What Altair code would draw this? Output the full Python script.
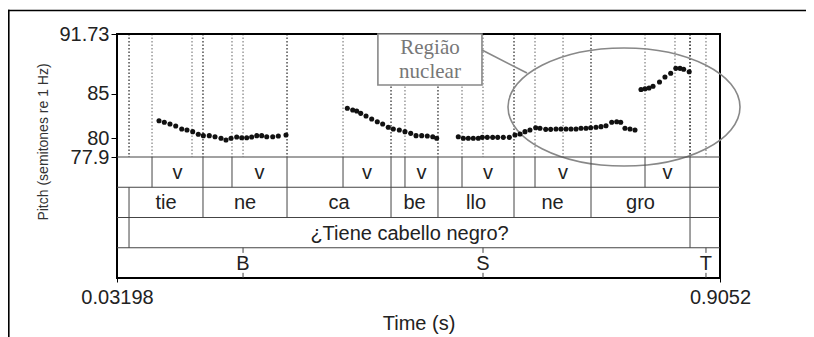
import altair as alt
import pandas as pd

# ---------------- data ----------------
T0, T1 = 0.03198, 0.9052
P_LO, P_HI = 77.9, 91.73

seg1_t = [0.0928, 0.1005, 0.1087, 0.1170, 0.1257, 0.1333, 0.1416, 0.1497, 0.1570, 0.1656, 0.1739, 0.1826,
          0.1898, 0.1971, 0.2053, 0.2126, 0.2198, 0.2270, 0.2343, 0.2415, 0.2488, 0.2575, 0.2656, 0.2767]
seg1_p = [81.98, 81.80, 81.61, 81.39, 81.05, 80.94, 80.75, 80.45, 80.30, 80.30, 80.18, 80.00,
          79.81, 80.00, 80.15, 80.07, 80.07, 80.15, 80.30, 80.30, 80.18, 80.18, 80.26, 80.37]
seg2_t = [0.3655, 0.3733, 0.3791, 0.3849, 0.3926, 0.4008, 0.4089, 0.4167, 0.4248, 0.4321, 0.4408, 0.4490,
          0.4573, 0.4650, 0.4732, 0.4813, 0.4892, 0.4949]
seg2_p = [83.38, 83.18, 83.07, 82.81, 82.51, 82.17, 81.87, 81.61, 81.24, 81.05, 80.94, 80.75,
          80.56, 80.30, 80.30, 80.26, 80.18, 80.00]
seg3_t = [0.5262, 0.5335, 0.5407, 0.5479, 0.5552, 0.5610, 0.5682, 0.5760, 0.5833, 0.5914, 0.6001, 0.6083,
          0.6156, 0.6228, 0.6300, 0.6383, 0.6445, 0.6528, 0.6600, 0.6677, 0.6749, 0.6822, 0.6894, 0.6967,
          0.7039, 0.7111, 0.7179, 0.7256, 0.7329, 0.7401, 0.7484, 0.7556, 0.7614, 0.7676, 0.7749, 0.7821]
seg3_p = [80.18, 80.00, 80.00, 80.00, 80.00, 80.11, 80.11, 80.11, 80.11, 80.11, 80.11, 80.37,
          80.49, 80.75, 80.94, 81.19, 81.13, 81.01, 81.01, 81.05, 81.05, 81.05, 81.05, 81.05,
          81.13, 81.13, 81.19, 81.24, 81.31, 81.42, 81.80, 81.87, 81.80, 81.13, 81.05, 80.94]
seg4_t = [0.7908, 0.7966, 0.8024, 0.8082, 0.8176, 0.8255, 0.8338, 0.8412, 0.8473, 0.8526, 0.8606]
seg4_p = [85.49, 85.58, 85.66, 85.85, 86.33, 86.90, 87.31, 87.87, 87.87, 87.77, 87.49]

v_start = [0.0827, 0.1985, 0.3593, 0.4490, 0.5316, 0.6373, 0.7966]
v_end = [0.1565, 0.2782, 0.4288, 0.4968, 0.6069, 0.7184, 0.8618]
syl_bounds = [0.0494, 0.1565, 0.2782, 0.4288, 0.4968, 0.6069, 0.7184, 0.8618]
syl_labels = ["tie", "ne", "ca", "be", "llo", "ne", "gro"]
sent_bounds = [0.0494, 0.8618]
sent_label = "¿Tiene cabello negro?"
tone_times = [0.2145, 0.5620, 0.8849]
tone_labels = ["B", "S", "T"]
extra_marks = [0.1406, 0.6779, 0.8400]

y_ticks = [77.9, 80, 85, 91.73]
x_ticks = [T0, T1]

callout_text = ["Região", "nuclear"]
callout_pos = [0.4852, 90.10]
callout_box = [0.4098, 0.5605, 91.73, 85.99]
leader = [0.5605, 89.93, 0.6257, 87.35]
ellipse_center = [0.7662, 83.52]

# ---------------- layout constants ----------------
W = 603
PH = 123   # pitch panel height
H = 244    # total plot height (pitch + 4 tiers)
FONT = "Liberation Sans, Arial, sans-serif"
SERIF = "Liberation Serif, Times New Roman, serif"

xs = alt.Scale(domain=[T0, T1], nice=False, zero=False)
ys_p = alt.Scale(domain=[P_LO, P_HI], range=[PH, 0], nice=False, zero=False)
ys_t = alt.Scale(domain=[0, 4], range=[PH, H], nice=False, zero=False)

x_axis = alt.Axis(values=x_ticks, format=".5~g", title="Time (s)", labelFontSize=20, titleFontSize=20,
                  titleFontWeight="normal", tickSize=4, labelPadding=5, titlePadding=6, grid=False,
                  domain=False, labelFlush=False, labelColor="#222", titleColor="#222", tickColor="#000",
                  labelFont=FONT, titleFont=FONT)
y_axis = alt.Axis(values=y_ticks, format=".5~g", title="Pitch (semitones re 1 Hz)", titleFontSize=14,
                  titleFontWeight="normal", labelFontSize=20, tickSize=6, labelPadding=2, grid=False,
                  domain=False, labelOverlap=False, labelFlush=False, titleX=-74, titleY=107.5, titleAngle=270,
                  titleBaseline="middle", titleAlign="center", labelColor="#222", titleColor="#333",
                  tickColor="#000", labelFont=FONT, titleFont=FONT)

# ---------------- frames ----------------
pitch_df = pd.DataFrame({"t": seg1_t + seg2_t + seg3_t + seg4_t,
                         "p": seg1_p + seg2_p + seg3_p + seg4_p})

dotted_times = v_start + v_end + syl_bounds + sent_bounds + tone_times + extra_marks
dotted_df = pd.DataFrame({"t": dotted_times, "lo": P_LO, "hi": P_HI})

tb_t, tb_r = [], []
for t in v_start + v_end:
    tb_t.append(t); tb_r.append(0)
for t in syl_bounds:
    tb_t.append(t); tb_r.append(1)
for t in sent_bounds:
    tb_t.append(t); tb_r.append(2)
tier_b_df = pd.DataFrame({"t": tb_t, "r0": tb_r, "r1": [r + 1 for r in tb_r]})

tick_rows = []
for t in tone_times:
    tick_rows.append({"t": t, "r0": 3.0, "r1": 3.17})
    tick_rows.append({"t": t, "r0": 3.83, "r1": 4.0})
tick_df = pd.DataFrame(tick_rows)

hline_df = pd.DataFrame({"t": T0, "b": T1, "r": [0, 1, 2, 3]})

lab_t, lab_r, lab_s = [], [], []
for a, b in zip(v_start, v_end):
    lab_t.append((a + b) / 2); lab_r.append(0.5); lab_s.append("v")
for i, s in enumerate(syl_labels):
    lab_t.append((syl_bounds[i] + syl_bounds[i + 1]) / 2); lab_r.append(1.5); lab_s.append(s)
lab_t.append((sent_bounds[0] + sent_bounds[1]) / 2); lab_r.append(2.5); lab_s.append(sent_label)
for t, s in zip(tone_times, tone_labels):
    lab_t.append(t); lab_r.append(3.5); lab_s.append(s)
label_df = pd.DataFrame({"t": lab_t, "r": lab_r, "s": lab_s})

# ---------------- layers ----------------
X = alt.X("t:Q", scale=xs, axis=x_axis)

dotted = alt.Chart(dotted_df).mark_rule(color="#000", opacity=0.5, strokeWidth=1.2, strokeDash=[1.5, 2]).encode(
    x=X, y=alt.Y("hi:Q", scale=ys_p, axis=None), y2="lo:Q")

dots = alt.Chart(pitch_df).mark_circle(size=26, color="#111", opacity=1).encode(
    x=X, y=alt.Y("p:Q", scale=ys_p, axis=y_axis))

hlines = alt.Chart(hline_df).mark_rule(color="#444", strokeWidth=1).encode(
    x=X, x2="b:Q", y=alt.Y("r:Q", scale=ys_t, axis=None))

tier_b = alt.Chart(tier_b_df).mark_rule(color="#444", strokeWidth=1).encode(
    x=X, y=alt.Y("r0:Q", scale=ys_t, axis=None), y2="r1:Q")

ticks = alt.Chart(tick_df).mark_rule(color="#444", strokeWidth=1).encode(
    x=X, y=alt.Y("r0:Q", scale=ys_t, axis=None), y2="r1:Q")

labels = alt.Chart(label_df).mark_text(fontSize=20, font=FONT, color="#222", baseline="middle", dy=1).encode(
    x=X, y=alt.Y("r:Q", scale=ys_t, axis=None), text="s:N")

ell_df = pd.DataFrame({"t": [ellipse_center[0]], "p": [ellipse_center[1]]})
ellipse = alt.Chart(ell_df).mark_point(
    shape="M-1,0 C-1,-0.281 -0.552,-0.509 0,-0.509 C0.552,-0.509 1,-0.281 1,0 C1,0.281 0.552,0.509 0,0.509 C-0.552,0.509 -1,0.281 -1,0 Z",
    size=53824, filled=False, stroke="#888", strokeWidth=1.6, opacity=1).encode(
    x=X, y=alt.Y("p:Q", scale=ys_p, axis=None))

box_df = pd.DataFrame({"t": [callout_box[0]], "b": [callout_box[1]], "hi": [callout_box[2]], "lo": [callout_box[3]]})
box = alt.Chart(box_df).mark_rect(fill="white", stroke="#888", strokeWidth=1.6).encode(
    x=X, x2="b:Q", y=alt.Y("hi:Q", scale=ys_p, axis=None), y2="lo:Q")

ctext_df = pd.DataFrame({"t": [callout_pos[0]], "p": [callout_pos[1]], "s": [callout_text]})
ctext = alt.Chart(ctext_df).mark_text(fontSize=21, font=SERIF, color="#777", baseline="middle", lineHeight=24).encode(
    x=X, y=alt.Y("p:Q", scale=ys_p, axis=None), text="s")

lead_df = pd.DataFrame({"t": [leader[0]], "pa": [leader[1]], "b": [leader[2]], "pb": [leader[3]]})
lead = alt.Chart(lead_df).mark_rule(color="#888", strokeWidth=1.6).encode(
    x=X, x2="b:Q", y=alt.Y("pa:Q", scale=ys_p, axis=None), y2="pb:Q")

# page frame drawn as thin filled rects (outside the plot area)
frame_top = alt.Chart(pd.DataFrame({"k": [0]})).mark_rect(color="#000", strokeWidth=0).encode(
    x=alt.value(-109), x2=alt.value(689), y=alt.value(-24.3), y2=alt.value(-22.7))
frame_left = alt.Chart(pd.DataFrame({"k": [0]})).mark_rect(color="#000", strokeWidth=0).encode(
    x=alt.value(-109), x2=alt.value(-107.4), y=alt.value(-24.3), y2=alt.value(H + 70))

chart = alt.layer(
    dotted, box, ctext, lead, ellipse, dots, hlines, tier_b, ticks, labels, frame_top, frame_left
).resolve_scale(y="independent").properties(
    width=W, height=H,
    background="white",
    autosize=alt.AutoSizeParams(type="none"),
    padding={"left": 109, "top": 26, "right": 86, "bottom": 62},
).configure_view(stroke="#000", strokeWidth=2)

chart.save("out.html", embed_options={"renderer": "svg", "actions": False})
